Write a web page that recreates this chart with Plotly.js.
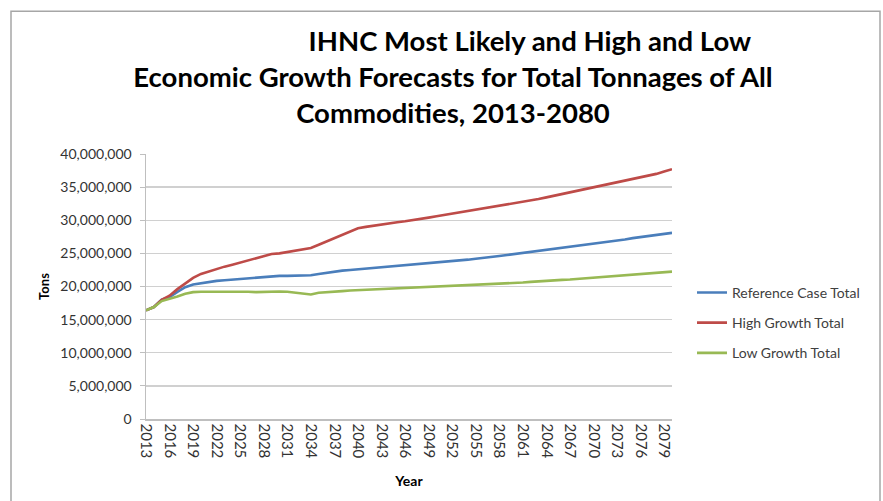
<!DOCTYPE html>
<html>
<head>
<meta charset="utf-8">
<script src="https://cdn.plot.ly/plotly-3.0.1.min.js"></script>
<style>html,body{margin:0;padding:0;background:#fff;}#chart{width:883px;height:501px;}</style>
</head>
<body>
<div id="chart"></div>
<script>
const years = [2013,2014,2015,2016,2017,2018,2019,2020,2021,2022,2023,2024,2025,2026,2027,2028,2029,2030,
2031,2032,2033,2034,2035,2036,2037,2038,2039,2040,2041,2042,2043,2044,2045,2046,2047,2048,2049,2050,
2051,2052,2053,2054,2055,2056,2057,2058,2059,2060,2061,2062,2063,2064,2065,2066,2067,2068,2069,2070,
2071,2072,2073,2074,2075,2076,2077,2078,2079,2080];

const tickYears = [2013,2016,2019,2022,2025,2028,2031,2034,2037,2040,2043,2046,2049,2052,2055,2058,2061,2064,2067,2070,2073,2076,2079];

// values in millions of tons
const referenceCase = [16.4,16.9,18.0,18.4,19.2,19.9,20.3,20.5,20.7,20.85,20.95,21.05,21.15,21.2,21.3,21.45,21.6,21.6,21.6,21.6,
21.6,21.7,21.9,22.1,22.25,22.4,22.5,22.6,22.7,22.8,22.85,22.95,23.05,23.15,23.3,23.4,23.5,23.6,23.7,23.85,
23.95,24.05,24.2,24.3,24.45,24.6,24.75,24.9,25.05,25.2,25.35,25.5,25.65,25.8,25.95,26.1,26.3,26.45,26.6,26.8,
26.95,27.1,27.3,27.45,27.6,27.8,27.95,28.1];

const highGrowth = [16.4,16.9,18.0,18.6,19.6,20.5,21.3,21.9,22.3,22.7,23.0,23.3,23.6,23.9,24.2,24.6,24.9,25.0,25.2,25.4,
25.5,25.8,26.3,26.8,27.3,27.9,28.4,28.8,29.0,29.2,29.3,29.5,29.7,29.85,30.0,30.2,30.4,30.6,30.8,31.0,
31.15,31.3,31.5,31.7,31.9,32.1,32.3,32.5,32.75,33.0,33.2,33.45,33.7,33.9,34.15,34.4,34.65,34.9,35.15,35.4,
35.65,35.9,36.15,36.4,36.7,37.0,37.35,37.7];

const lowGrowth = [16.4,16.9,17.8,18.1,18.5,18.9,19.15,19.2,19.2,19.2,19.2,19.25,19.3,19.2,19.15,19.2,19.25,19.25,19.2,19.1,
18.95,18.8,19.05,19.1,19.15,19.3,19.4,19.45,19.5,19.55,19.6,19.65,19.7,19.75,19.8,19.85,19.9,19.95,20.0,20.05,
20.1,20.15,20.2,20.3,20.35,20.4,20.45,20.5,20.6,20.7,20.8,20.9,20.95,21.0,21.05,21.15,21.2,21.3,21.35,21.45,
21.55,21.65,21.75,21.85,21.95,22.05,22.15,22.25];

const seriesNames = ["Reference Case Total","High Growth Total","Low Growth Total"];
const seriesColors = ["#4a7ebb","#be4b48","#98b954"];

const toTons = arr => arr.map(v => Math.round(v * 1e6));

const traces = [referenceCase, highGrowth, lowGrowth].map((vals, k) => ({
  type: "scatter", mode: "lines",
  x: years, y: toTons(vals),
  name: seriesNames[k],
  legendgroup: "g" + k,
  line: {color: seriesColors[k], width: 2.6},
  hoverinfo: "skip"
}));

const FONT = "Lato, 'Open Sans', sans-serif";
const lead = "\u200b" + "\u00a0".repeat(23);

const L = 146, R = 672, T = 154, B = 419.3;
const px = x => (x - L) / (R - L);
const py = y => (B - y) / (B - T);

const layout = {
  width: 883, height: 501,
  margin: {l: 146, r: 211, t: 154, b: 82, pad: 0},
  paper_bgcolor: "#ffffff", plot_bgcolor: "#ffffff",
  font: {family: FONT, size: 14, color: "#404040"},
  title: {
    text: lead + "IHNC Most Likely and High and Low<br>Economic Growth Forecasts for Total Tonnages of All<br>Commodities, 2013-2080",
    font: {family: FONT, size: 27.5, color: "#000000", weight: "bold"},
    xref: "container", yref: "container",
    x: 453/883, xanchor: "center",
    y: 1 - 51/501, yanchor: "top"
  },
  xaxis: {
    type: "linear",
    range: [2013, 2080],
    tickmode: "array",
    tickvals: tickYears,
    ticktext: tickYears.map(String),
    tickangle: 90,
    tickfont: {family: FONT, size: 15, color: "#333333"},
    showgrid: false,
    showline: true, linecolor: "#bfbfbf", linewidth: 1.5,
    ticks: "", zeroline: false,
    title: {text: "Year", font: {family: FONT, size: 14, color: "#000", weight: "bold"}, standoff: 18},
    automargin: false
  },
  yaxis: {
    range: [0, 40000000],
    tickmode: "linear", tick0: 0, dtick: 5000000,
    tickformat: ",d",
    tickfont: {family: FONT, size: 14, color: "#333333"},
    showgrid: true, gridcolor: "#d0d0d0", gridwidth: 1.3,
    showline: true, linecolor: "#bfbfbf", linewidth: 1.5,
    ticks: "outside", ticklen: 5, tickcolor: "#bfbfbf",
    ticklabelstandoff: 5,
    zeroline: false,
    title: {text: "Tons", font: {family: FONT, size: 13, color: "#000", weight: "bold"}, standoff: 8},
    automargin: false
  },
  separators: ".,",
  showlegend: true,
  legend: {
    x: px(692), xanchor: "left",
    y: py(277), yanchor: "top",
    font: {family: FONT, size: 14, color: "#404040"},
    bgcolor: "rgba(0,0,0,0)",
    tracegroupgap: 9,
    itemwidth: 30
  },
  shapes: [{
    type: "rect", xref: "paper", yref: "paper",
    x0: px(11), x1: px(880), y0: py(520), y1: py(11),
    line: {color: "#a6a6a6", width: 1.5}, fillcolor: "rgba(0,0,0,0)", layer: "below"
  }]
};

Plotly.newPlot("chart", traces, layout, {displayModeBar: false, staticPlot: true});
</script>
</body>
</html>
